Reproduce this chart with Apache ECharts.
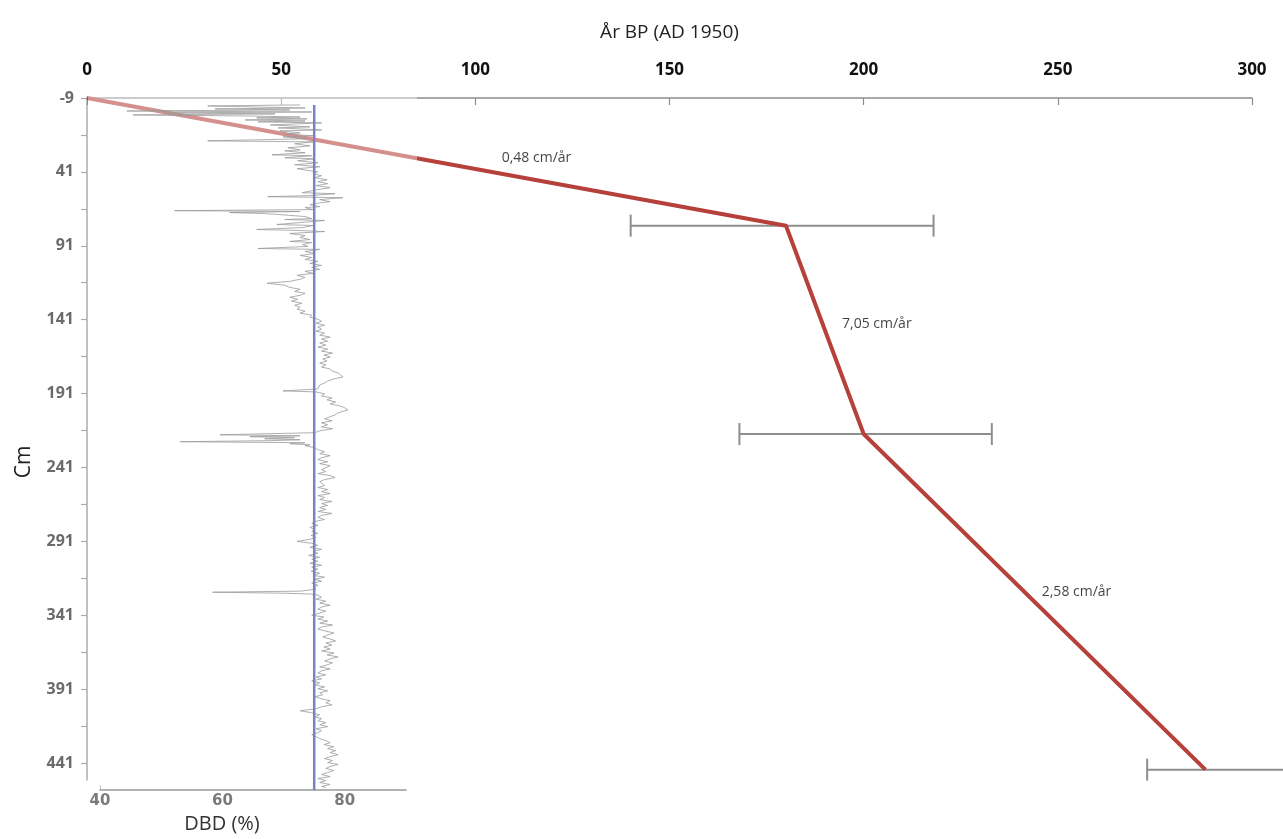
<!DOCTYPE html>
<html>
<head>
<meta charset="utf-8">
<title>Åldersmodell och DBD</title>
<script src="https://cdn.jsdelivr.net/npm/echarts@6/dist/echarts.min.js"></script>
<style>
  html, body { margin: 0; padding: 0; background: #ffffff; }
  #chart { width: 1283px; height: 839px; }
</style>
</head>
<body>
<div id="chart"></div>
<script>
// Age–depth model: dated levels (år BP) and their depths (cm)
const modelAge = [0, 180, 200, 288];
const modelDepth = [-9, 77.4, 218.4, 445.5];
const rateLabels = ['0,48 cm/år', '7,05 cm/år', '2,58 cm/år'];

// Dating uncertainty at each dated level (år BP)
const errDepth = [77.4, 218.4, 445.5];
const errLow = [140, 168, 273];
const errHigh = [218, 233, 312];

// Axis tick values
const depthLabels = [-9, 41, 91, 141, 191, 241, 291, 341, 391, 441];
const depthTicks = [-9, 16, 41, 66, 91, 116, 141, 166, 191, 216, 241, 266, 291, 316, 341, 366, 391, 416, 441];
const dbdLabels = [40, 60, 80];

// Mean dry bulk density (%)
const dbdMean = 75;

// Dry bulk density profile: [depth cm, DBD %]
const dbdProfile = [
  [-4.3, 72.7], [-3.6, 57.6], [-2.9, 65.3], [-2.2, 73.5], [-1.6, 58.8], [-0.9, 71.0], [-0.2, 44.4],
  [0.5, 74.6], [1.1, 50.6], [1.8, 68.6], [2.5, 45.4], [3.2, 64.0], [3.9, 72.7], [4.5, 65.6],
  [5.2, 73.8], [5.9, 63.7], [6.6, 73.5], [7.2, 65.8], [7.9, 76.2], [9.3, 67.8], [10.6, 74.3],
  [11.3, 69.1], [12.7, 76.2], [13.3, 69.4], [14.7, 72.7], [15.4, 70.2], [16.7, 74.8], [17.4, 69.9],
  [18.7, 73.5], [20.1, 57.6], [20.8, 74.8], [22.1, 71.8], [23.5, 74.3], [24.8, 70.7], [26.2, 72.7],
  [26.9, 70.2], [28.2, 73.5], [29.6, 68.1], [30.2, 74.6], [31.6, 70.2], [32.3, 75.1], [33.6, 72.3],
  [35.0, 75.6], [36.3, 71.8], [37.7, 75.9], [39.0, 72.2], [40.4, 74.3], [41.1, 75.6], [42.4, 74.8],
  [43.8, 76.2], [45.1, 75.1], [46.5, 77.1], [47.8, 75.6], [49.2, 77.2], [50.5, 75.3], [51.9, 77.6],
  [53.2, 75.6], [55.3, 73.0], [56.0, 78.4], [57.3, 74.3], [58.0, 67.4], [58.7, 79.7], [60.0, 75.9],
  [61.4, 77.6], [62.0, 76.2], [63.4, 74.3], [64.8, 75.9], [65.4, 73.5], [66.8, 74.8], [67.5, 52.2],
  [68.1, 72.7], [68.8, 61.2], [69.5, 66.9], [70.2, 69.4], [71.5, 73.5], [72.9, 74.6], [73.5, 70.2],
  [74.2, 76.7], [75.6, 72.7], [76.9, 68.9], [77.6, 74.8], [79.0, 73.1], [80.3, 65.6], [81.0, 72.7],
  [81.7, 76.7], [83.0, 71.0], [84.4, 73.5], [85.7, 72.7], [87.1, 74.3], [88.4, 71.0], [89.1, 74.6],
  [90.5, 73.1], [91.8, 74.0], [93.2, 65.8], [93.8, 75.9], [95.2, 73.5], [96.6, 75.1], [97.9, 72.7],
  [99.3, 74.6], [100.6, 73.5], [102.0, 75.6], [103.3, 74.3], [104.7, 76.2], [106.0, 74.6], [107.4, 75.9],
  [108.7, 73.5], [110.1, 74.8], [111.4, 72.2], [112.8, 73.5], [114.1, 72.7], [115.5, 71.0], [116.8, 67.3],
  [118.2, 70.2], [119.6, 71.0], [120.9, 72.7], [122.3, 71.8], [123.6, 73.5], [125.0, 72.7], [126.3, 71.0],
  [127.7, 72.3], [129.0, 71.3], [130.4, 73.0], [131.7, 71.8], [133.1, 72.7], [134.4, 72.2], [135.8, 73.5],
  [137.1, 72.7], [138.5, 74.6], [139.9, 74.3], [141.2, 75.6], [142.6, 76.2], [143.9, 75.3], [145.3, 76.7],
  [146.6, 75.6], [148.0, 76.2], [149.3, 75.3], [150.7, 76.7], [152.0, 75.9], [153.4, 77.6], [154.7, 76.2],
  [156.1, 77.2], [157.4, 75.9], [158.8, 76.9], [160.2, 75.6], [161.5, 77.2], [162.9, 76.2], [164.2, 78.0],
  [165.6, 76.6], [166.9, 77.6], [168.3, 76.4], [169.6, 77.1], [171.0, 75.9], [172.3, 76.9], [173.7, 76.2],
  [175.0, 77.6], [176.4, 77.9], [177.7, 78.9], [179.1, 79.3], [180.4, 79.7], [181.8, 78.2], [183.2, 77.2],
  [184.5, 76.7], [185.9, 75.9], [187.2, 76.2], [188.6, 75.6], [189.9, 69.9], [190.6, 75.3], [191.9, 76.7],
  [193.3, 76.2], [194.7, 77.9], [196.0, 77.1], [197.4, 78.5], [198.7, 77.6], [200.1, 79.2], [201.4, 80.0],
  [202.8, 80.5], [203.5, 80.8], [204.8, 78.9], [206.2, 78.4], [207.5, 77.6], [208.9, 76.7], [210.2, 77.9],
  [211.6, 76.2], [212.9, 77.2], [214.3, 76.2], [215.6, 78.0], [217.0, 75.9], [218.3, 75.1], [219.7, 59.6],
  [220.4, 72.7], [221.0, 64.5], [221.7, 71.8], [222.4, 66.9], [223.1, 72.7], [223.7, 67.8], [224.4, 53.1],
  [225.1, 73.5], [225.8, 71.0], [226.5, 74.3], [227.1, 73.5], [228.5, 75.1], [229.8, 75.6], [231.2, 76.7],
  [232.5, 75.9], [233.9, 77.6], [235.3, 76.2], [236.6, 75.6], [238.0, 77.2], [239.3, 75.9], [240.7, 77.6],
  [242.0, 77.9], [243.4, 76.2], [244.7, 76.9], [246.1, 75.6], [247.4, 77.6], [248.8, 78.4], [250.1, 76.7],
  [251.5, 75.9], [252.8, 75.6], [254.2, 76.7], [255.5, 75.6], [256.9, 77.2], [258.3, 76.2], [259.6, 77.6],
  [261.0, 75.6], [262.3, 76.7], [263.7, 75.9], [265.0, 77.9], [266.4, 76.2], [267.7, 77.2], [269.1, 75.9],
  [270.4, 76.9], [271.8, 75.6], [273.1, 77.9], [274.5, 76.2], [275.8, 75.6], [277.2, 76.7], [278.6, 75.1],
  [279.9, 74.6], [281.3, 75.6], [282.6, 74.3], [284.0, 75.1], [285.3, 74.6], [286.7, 75.6], [288.0, 74.5],
  [289.4, 75.3], [290.7, 74.3], [292.1, 72.2], [293.4, 74.6], [294.8, 75.6], [296.1, 74.3], [297.5, 76.2],
  [298.9, 74.8], [300.2, 75.6], [301.6, 74.1], [302.9, 75.9], [304.3, 74.6], [305.6, 75.6], [307.0, 74.3],
  [308.3, 76.2], [309.7, 74.6], [311.0, 75.6], [312.4, 74.5], [313.7, 75.9], [315.1, 74.8], [316.4, 76.7],
  [317.8, 75.1], [319.2, 76.2], [320.5, 74.6], [321.9, 75.6], [323.2, 74.9], [324.6, 75.3], [325.9, 72.7],
  [326.6, 58.4], [327.3, 70.2], [327.9, 74.6], [328.6, 75.6], [330.0, 76.2], [331.3, 75.3], [332.7, 76.9],
  [334.0, 75.9], [335.4, 77.6], [336.7, 76.2], [338.1, 75.6], [339.4, 76.9], [340.8, 75.9], [342.2, 74.6],
  [343.5, 76.6], [344.9, 75.6], [346.2, 77.2], [347.6, 75.9], [348.9, 78.0], [350.3, 76.2], [351.6, 75.6],
  [353.0, 76.9], [354.3, 78.2], [355.7, 77.2], [357.0, 76.4], [358.4, 77.6], [359.7, 78.5], [361.1, 76.9],
  [362.5, 77.9], [363.8, 76.6], [365.2, 77.6], [366.5, 76.2], [367.9, 78.2], [369.2, 77.1], [370.6, 78.9],
  [371.9, 77.6], [373.3, 76.7], [374.6, 78.0], [376.0, 77.1], [377.3, 75.9], [378.7, 77.6], [380.0, 76.2],
  [381.4, 75.6], [382.8, 76.9], [384.1, 75.3], [385.5, 76.2], [386.8, 74.6], [388.2, 75.9], [389.5, 75.1],
  [390.9, 76.7], [392.2, 75.6], [393.6, 77.2], [394.9, 75.9], [396.3, 76.4], [397.6, 75.1], [399.0, 76.2],
  [400.3, 77.6], [401.7, 76.9], [403.1, 77.9], [404.4, 76.2], [405.8, 75.3], [407.1, 72.7], [408.5, 74.6],
  [409.8, 75.9], [411.2, 75.1], [412.5, 76.2], [413.9, 75.6], [415.2, 76.9], [416.6, 75.9], [417.9, 77.2],
  [419.3, 75.3], [420.6, 76.2], [422.0, 75.6], [423.3, 74.6], [424.7, 75.3], [426.1, 75.9], [427.4, 76.9],
  [428.8, 77.6], [430.1, 76.6], [431.5, 78.2], [432.8, 77.2], [434.2, 78.5], [435.5, 77.6], [436.9, 78.9],
  [438.2, 77.7], [439.6, 76.7], [440.9, 78.0], [442.3, 77.2], [443.6, 78.9], [445.0, 77.6], [446.3, 76.9],
  [447.7, 78.2], [449.1, 77.2], [450.4, 76.2], [451.8, 77.6], [453.1, 75.6], [454.5, 76.9], [455.8, 75.9],
  [457.2, 77.6], [458.5, 76.2], [459.2, 76.9]
];

const depthMin = -9;
const depthMaxModel = 452.5;
const depthMaxDbd = 461;

const chart = echarts.init(document.getElementById('chart'), null, { renderer: 'canvas' });

const FONT = '"Open Sans", "Noto Sans", sans-serif';
const RED = '#b6403a';

// Midpoints of each model segment, used to anchor the rate labels
const rateAnchors = rateLabels.map((txt, i) => ({
  value: [(modelAge[i] + modelAge[i + 1]) / 2, (modelDepth[i] + modelDepth[i + 1]) / 2],
  label: { offset: [[100, -4], [52, -6], [42, -10]][i] }
}));

const option = {
  backgroundColor: '#ffffff',
  animation: false,
  grid: [
    { left: 87, right: 31, top: 98, bottom: 59, containLabel: false },
    { left: 100, width: 306, top: 98, bottom: 46, containLabel: false }
  ],
  xAxis: [
    {
      gridIndex: 0, type: 'value', position: 'top', min: 0, max: 300, interval: 50,
      name: 'År BP (AD 1950)', nameLocation: 'middle', nameGap: 56,
      nameTextStyle: { fontFamily: FONT, fontSize: 19, color: '#222' },
      axisLine: { show: true, onZero: false, lineStyle: { color: '#8c8c8c', width: 1.5 } },
      axisTick: { show: true, inside: true, length: 7, lineStyle: { color: '#8c8c8c', width: 1.2 } },
      axisLabel: { fontFamily: FONT, fontSize: 17, fontWeight: 'bold', color: '#111', margin: 19 },
      splitLine: { show: false }
    },
    {
      gridIndex: 1, type: 'value', position: 'bottom', min: 40, max: 90,
      name: 'DBD (%)', nameLocation: 'middle', nameGap: 23,
      nameTextStyle: { fontFamily: FONT, fontSize: 20, color: '#333', padding: [0, 62, 0, 0] },
      axisLine: { show: true, onZero: false, lineStyle: { color: '#9a9a9a', width: 1.5 } },
      axisTick: { show: true, inside: true, length: 5, customValues: [40], lineStyle: { color: '#9a9a9a' } },
      axisLabel: { customValues: dbdLabels, fontFamily: '"DejaVu Sans", Verdana, sans-serif', fontSize: 15,
        fontWeight: 'bold', color: '#7a7a7a', margin: 4 },
      splitLine: { show: false }
    }
  ],
  yAxis: [
    {
      gridIndex: 0, type: 'value', inverse: true, min: depthMin, max: depthMaxModel,
      name: 'Cm', nameLocation: 'middle', nameRotate: 90, nameGap: 52,
      nameTextStyle: { fontFamily: FONT, fontSize: 21, color: '#222', padding: [0, 46, 0, 0] },
      axisLine: { show: true, onZero: false, lineStyle: { color: '#ababab', width: 1.5 } },
      axisTick: { show: true, inside: false, length: 6, customValues: depthTicks, lineStyle: { color: '#ababab', width: 1.2 } },
      axisLabel: { customValues: depthLabels, fontFamily: FONT, fontSize: 16, fontWeight: 'bold', color: '#6b6b6b', margin: 13 },
      splitLine: { show: false }
    },
    {
      gridIndex: 1, type: 'value', inverse: true, min: depthMin, max: depthMaxDbd, show: false,
      axisLine: { onZero: false },
      splitLine: { show: false }
    }
  ],
  series: [
    {
      // dating uncertainty bars
      type: 'custom', xAxisIndex: 0, yAxisIndex: 0, z: 2, silent: true,
      data: errDepth.map((d, i) => [errLow[i], errHigh[i], d]),
      encode: { x: [0, 1], y: 2 },
      renderItem: function (params, api) {
        const y = api.coord([0, api.value(2)])[1];
        const xa = api.coord([api.value(0), api.value(2)])[0];
        const xb = api.coord([api.value(1), api.value(2)])[0];
        const h = 11;
        const st = { stroke: '#8e8e8e', lineWidth: 2 };
        return {
          type: 'group',
          children: [
            { type: 'line', shape: { x1: xa, y1: y, x2: xb, y2: y }, style: st },
            { type: 'line', shape: { x1: xa, y1: y - h, x2: xa, y2: y + h }, style: st },
            { type: 'line', shape: { x1: xb, y1: y - h, x2: xb, y2: y + h }, style: st }
          ]
        };
      }
    },
    {
      // age–depth model
      type: 'line', xAxisIndex: 0, yAxisIndex: 0, z: 2, silent: true,
      data: modelAge.map((a, i) => [a, modelDepth[i]]),
      showSymbol: false, symbol: 'none',
      lineStyle: { color: RED, width: 4, join: 'round' }
    },
    {
      // accumulation-rate labels
      type: 'scatter', xAxisIndex: 0, yAxisIndex: 0, z: 5, silent: true,
      symbolSize: 0,
      data: rateAnchors,
      label: {
        show: true, position: 'inside',
        fontFamily: FONT, fontSize: 14, color: '#111',
        formatter: (p) => rateLabels[p.dataIndex]
      }
    },
    {
      // pale backdrop of the DBD panel, laid over the model
      type: 'custom', xAxisIndex: 1, yAxisIndex: 1, z: 3, silent: true,
      data: [[dbdMean, depthMin]],
      renderItem: function (params) {
        const cs = params.coordSys;
        return {
          type: 'rect',
          shape: { x: cs.x - 12, y: cs.y - 6, width: cs.width + 23, height: cs.height + 5 },
          style: { fill: 'rgba(255,255,255,0.42)' }
        };
      }
    },
    {
      // DBD profile
      type: 'line', xAxisIndex: 1, yAxisIndex: 1, z: 4, silent: true,
      data: dbdProfile.map(p => [p[1], p[0]]),
      showSymbol: false, symbol: 'none',
      lineStyle: { color: '#9a9a9a', width: 0.8 }
    },
    {
      // mean DBD
      type: 'line', xAxisIndex: 1, yAxisIndex: 1, z: 4, silent: true,
      data: [[dbdMean, dbdProfile[0][0]], [dbdMean, depthMaxDbd]],
      showSymbol: false, symbol: 'none',
      lineStyle: { color: '#7c80c6', width: 2.5 }
    }
  ]
};

chart.setOption(option);
</script>
</body>
</html>
